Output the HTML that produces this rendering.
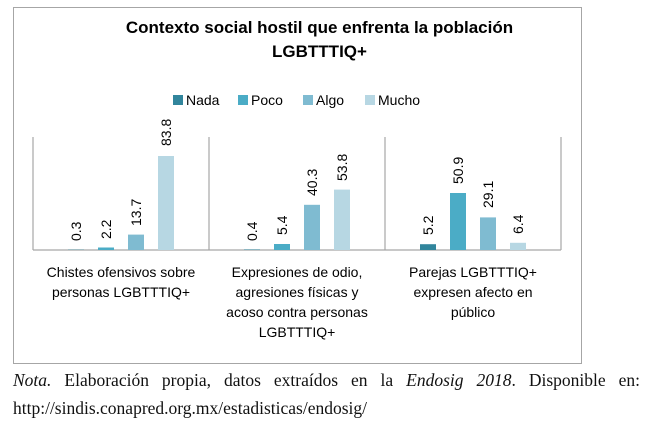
<!DOCTYPE html>
<html><head><meta charset="utf-8"><style>
body{margin:0;background:#fff;width:651px;height:432px;overflow:hidden;position:relative;font-family:"Liberation Sans",sans-serif}
.frame{position:absolute;left:13px;top:7px;width:569px;height:357px;border:1px solid #a6a6a6;box-sizing:border-box}
.t{position:absolute;font-weight:bold;font-size:17px;color:#000;text-align:center;width:651px;left:-6px}
.cat{position:absolute;font-size:14px;text-align:center;line-height:20px;color:#000}
.foot{position:absolute;left:13px;font-family:"Liberation Serif",serif;font-size:17.5px;color:#111}
</style></head><body>
<div class="frame"></div>
<div class="t" style="top:18px">Contexto social hostil que enfrenta la población</div>
<div class="t" style="top:42px">LGBTTTIQ+</div>
<svg width="651" height="432" style="position:absolute;left:0;top:0" font-family="Liberation Sans, sans-serif">
<g font-size="14">
<rect x="173" y="95" width="10" height="10" fill="#31859c"/><text x="186" y="105">Nada</text>
<rect x="238" y="95" width="10" height="10" fill="#4bacc6"/><text x="251" y="105">Poco</text>
<rect x="303" y="95" width="10" height="10" fill="#7fbbd1"/><text x="316" y="105">Algo</text>
<rect x="365" y="95" width="10" height="10" fill="#b7d7e3"/><text x="378" y="105">Mucho</text>
</g>
<g stroke="#a6a6a6" stroke-width="1.2">
<line x1="33" y1="137" x2="33" y2="250"/><line x1="209" y1="137" x2="209" y2="250"/>
<line x1="385" y1="137" x2="385" y2="250"/><line x1="561" y1="137" x2="561" y2="250"/>
<line x1="33" y1="250" x2="561" y2="250"/>
</g>
<g>
<rect x="68" y="249.7" width="16" height="0.3" fill="#31859c"/>
<rect x="98" y="247.5" width="16" height="2.5" fill="#4bacc6"/>
<rect x="128" y="234.6" width="16" height="15.4" fill="#7fbbd1"/>
<rect x="158" y="156" width="16" height="94" fill="#b7d7e3"/>
<rect x="244" y="249.5" width="16" height="0.5" fill="#31859c"/>
<rect x="274" y="244" width="16" height="6" fill="#4bacc6"/>
<rect x="304" y="204.8" width="16" height="45.2" fill="#7fbbd1"/>
<rect x="334" y="189.6" width="16" height="60.4" fill="#b7d7e3"/>
<rect x="420" y="244.2" width="16" height="5.8" fill="#31859c"/>
<rect x="450" y="193" width="16" height="57" fill="#4bacc6"/>
<rect x="480" y="217.4" width="16" height="32.6" fill="#7fbbd1"/>
<rect x="510" y="242.8" width="16" height="7.2" fill="#b7d7e3"/>
</g>
<g font-size="14" fill="#000">
<text transform="translate(81,241) rotate(-90)">0.3</text>
<text transform="translate(111,239) rotate(-90)">2.2</text>
<text transform="translate(141,226) rotate(-90)">13.7</text>
<text transform="translate(171,146) rotate(-90)">83.8</text>
<text transform="translate(257,241) rotate(-90)">0.4</text>
<text transform="translate(287,235) rotate(-90)">5.4</text>
<text transform="translate(317,196) rotate(-90)">40.3</text>
<text transform="translate(347,181) rotate(-90)">53.8</text>
<text transform="translate(433,235) rotate(-90)">5.2</text>
<text transform="translate(463,184) rotate(-90)">50.9</text>
<text transform="translate(493,208) rotate(-90)">29.1</text>
<text transform="translate(523,234) rotate(-90)">6.4</text>
</g>
</svg>
<div class="cat" style="left:33px;top:262px;width:176px">Chistes ofensivos sobre personas LGBTTTIQ+</div>
<div class="cat" style="left:219px;top:262px;width:156px">Expresiones de odio, agresiones físicas y acoso contra personas LGBTTTIQ+</div>
<div class="cat" style="left:395px;top:262px;width:156px">Parejas LGBTTTIQ+ expresen afecto en público</div>
<div class="foot" style="top:370px;width:627px;text-align:justify;text-align-last:justify"><i>Nota.</i> Elaboración propia, datos extraídos en la <i>Endosig 2018</i>. Disponible en:</div>
<div class="foot" style="top:398px">http://sindis.conapred.org.mx/estadisticas/endosig/</div>
</body></html>
